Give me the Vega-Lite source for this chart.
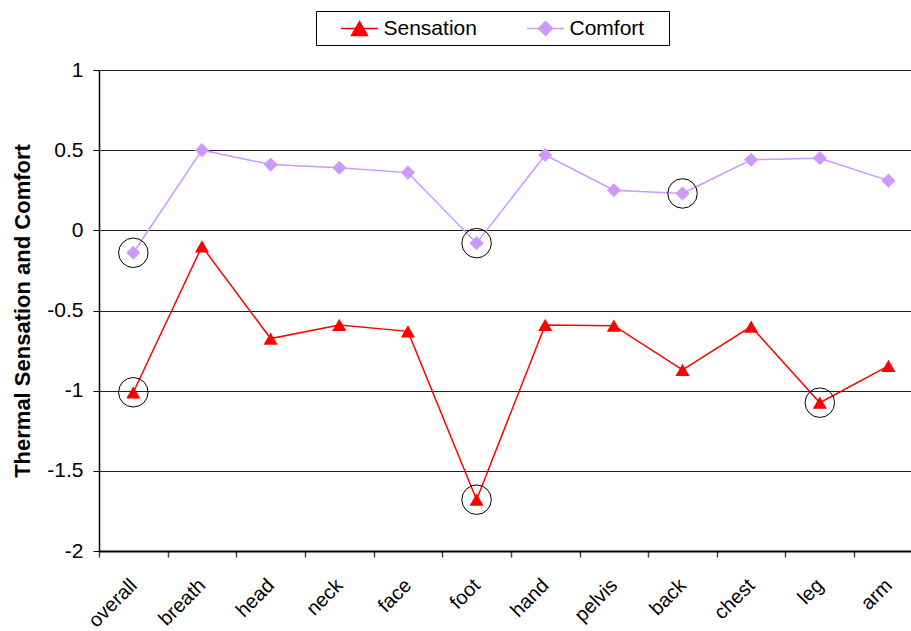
{
  "$schema": "https://vega.github.io/schema/vega-lite/v6.json",
  "autosize": "none",
  "width": 812,
  "height": 481,
  "padding": {"left": 99, "top": 70, "right": 0, "bottom": 80},
  "background": "white",
  "config": {
    "font": "Liberation Sans",
    "view": {"stroke": null},
    "axis": {"labelFont": "Liberation Sans", "titleFont": "Liberation Sans"},
    "legend": {"labelFont": "Liberation Sans"}
  },
  "data": {
    "values": [
      {"part": "overall", "series": "Sensation", "value": -1.01, "flag": true},
      {"part": "breath", "series": "Sensation", "value": -0.1, "flag": false},
      {"part": "head", "series": "Sensation", "value": -0.675, "flag": false},
      {"part": "neck", "series": "Sensation", "value": -0.59, "flag": false},
      {"part": "face", "series": "Sensation", "value": -0.63, "flag": false},
      {"part": "foot", "series": "Sensation", "value": -1.68, "flag": true},
      {"part": "hand", "series": "Sensation", "value": -0.59, "flag": false},
      {"part": "pelvis", "series": "Sensation", "value": -0.595, "flag": false},
      {"part": "back", "series": "Sensation", "value": -0.87, "flag": false},
      {"part": "chest", "series": "Sensation", "value": -0.6, "flag": false},
      {"part": "leg", "series": "Sensation", "value": -1.075, "flag": true},
      {"part": "arm", "series": "Sensation", "value": -0.845, "flag": false},
      {"part": "overall", "series": "Comfort", "value": -0.14, "flag": true},
      {"part": "breath", "series": "Comfort", "value": 0.5, "flag": false},
      {"part": "head", "series": "Comfort", "value": 0.41, "flag": false},
      {"part": "neck", "series": "Comfort", "value": 0.39, "flag": false},
      {"part": "face", "series": "Comfort", "value": 0.36, "flag": false},
      {"part": "foot", "series": "Comfort", "value": -0.08, "flag": true},
      {"part": "hand", "series": "Comfort", "value": 0.47, "flag": false},
      {"part": "pelvis", "series": "Comfort", "value": 0.25, "flag": false},
      {"part": "back", "series": "Comfort", "value": 0.23, "flag": true},
      {"part": "chest", "series": "Comfort", "value": 0.44, "flag": false},
      {"part": "leg", "series": "Comfort", "value": 0.45, "flag": false},
      {"part": "arm", "series": "Comfort", "value": 0.31, "flag": false}
    ]
  },
  "encoding": {
    "x": {
      "field": "part",
      "type": "nominal",
      "sort": null,
      "scale": {"type": "band", "range": [0, 823.8], "paddingInner": 0, "paddingOuter": 0},
      "axis": {
        "title": null,
        "labelAngle": -45,
        "labelAlign": "right",
        "labelBaseline": "middle",
        "labelFontSize": 20,
        "labelColor": "black",
        "labelPadding": 25,
        "labelDx": -4,
        "tickBand": "extent",
        "tickSize": 6,
        "tickColor": "#444444",
        "tickWidth": 1.5,
        "domainColor": "black",
        "domainWidth": 2,
        "grid": false
      }
    },
    "y": {
      "field": "value",
      "type": "quantitative",
      "scale": {"domain": [-2, 1], "nice": false, "zero": false},
      "axis": {
        "title": "Thermal Sensation and Comfort",
        "titleFontSize": 22,
        "titleFontWeight": "bold",
        "titleColor": "black",
        "titlePadding": 12,
        "values": [-2, -1.5, -1, -0.5, 0, 0.5, 1],
        "labelExpr": "toString(datum.value)",
        "labelFontSize": 21,
        "labelColor": "black",
        "labelPadding": 10,
        "tickSize": 6,
        "tickColor": "black",
        "domainColor": "black",
        "domainWidth": 1.5,
        "grid": true,
        "gridColor": "#222222",
        "gridWidth": 1
      }
    },
    "color": {
      "field": "series",
      "type": "nominal",
      "scale": {"domain": ["Sensation", "Comfort"], "range": ["#FF0000", "#CC99FF"]},
      "legend": {
        "title": "\u00a0",
        "titleOrient": "right",
        "titlePadding": 18,
        "titleFontSize": 21,
        "orient": "none",
        "legendX": 217,
        "legendY": -59,
        "direction": "horizontal",
        "strokeColor": "black",
        "fillColor": "white",
        "padding": 6.5,
        "symbolOffset": 26,
        "symbolSize": 400,
        "symbolStrokeWidth": 1.5,
        "symbolOpacity": 1,
        "labelFontSize": 21,
        "labelColor": "black",
        "labelOffset": 13,
        "columnPadding": 31,
        "encode": {
          "symbols": {
            "update": {
              "shape": {"signal": "datum.value === 'Sensation' ? 'M-1.85,0H1.85M0,-0.7L-0.8,0.7L0.8,0.7Z' : 'M-1.85,0H1.85M-0.7,0L0,-0.7L0.7,0L0,0.7Z'"},
              "stroke": {"signal": "datum.value === 'Sensation' ? '#FF0000' : '#CC99FF'"},
              "fill": {"signal": "datum.value === 'Sensation' ? '#FF0000' : '#CC99FF'"},
              "strokeWidth": {"value": 1.5}
            }
          }
        }
      }
    }
  },
  "layer": [
    {
      "mark": {"type": "line", "strokeWidth": 1.5}
    },
    {
      "mark": {"type": "point", "filled": true, "opacity": 1, "size": 200},
      "encoding": {
        "shape": {
          "condition": {"test": "datum.series === 'Sensation'", "value": "triangle-up"},
          "value": "diamond"
        }
      }
    },
    {
      "transform": [{"filter": "datum.flag"}],
      "mark": {"type": "point", "shape": "circle", "filled": false, "strokeWidth": 1, "size": 870, "opacity": 1},
      "encoding": {
        "color": {"value": "black"}
      }
    }
  ]
}
